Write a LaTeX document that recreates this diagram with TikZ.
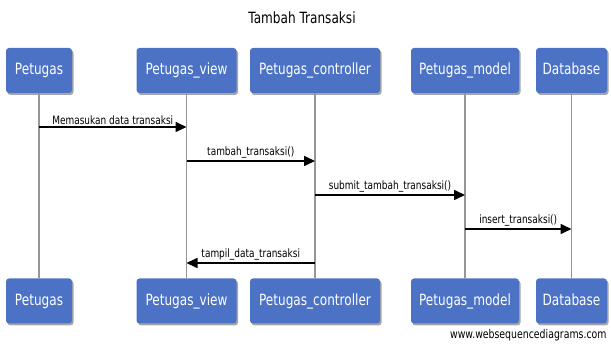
\documentclass[tikz,border=0pt]{standalone}
\usepackage{fontspec}
\setmainfont{DejaVu Sans}[FakeStretch=0.78]
\usetikzlibrary{shadows,arrows.meta}
\definecolor{boxblue}{RGB}{76,114,197}
\definecolor{lifegray}{RGB}{150,150,150}
\begin{document}
\begin{tikzpicture}[x=1pt,y=-1pt,
  actor/.style={fill=boxblue, rounded corners=3pt, text=white,
    font=\fontsize{15.5}{17}\selectfont, minimum height=45pt, inner sep=0pt,
    text height=11.5pt, text depth=3pt,
    drop shadow={shadow xshift=1.5pt,shadow yshift=-2pt,fill=black,opacity=0.35}},
  lifeline/.style={draw=lifegray, line width=1.3pt},
  msg/.style={draw=black, line width=1.6pt, -{Triangle[length=11pt,width=10pt]}},
  msglabel/.style={font=\fontsize{11.5}{13}\selectfont, above=1pt, inner sep=1pt}]
\useasboundingbox (0,0) rectangle (611,347);
\node (title) at (302,18) {\fontsize{15.5}{17}\selectfont Tambah Transaksi};
% top actors
\node[actor, minimum width=66pt]  (p1) at (39,70.5)  {Petugas};
\node[actor, minimum width=100pt] (v1) at (186.5,70.5) {Petugas\_view};
\node[actor, minimum width=130pt] (c1) at (315,70.5) {Petugas\_controller};
\node[actor, minimum width=108pt] (m1) at (465,70.5) {Petugas\_model};
\node[actor, minimum width=71pt]  (d1) at (571.5,70.5) {Database};
% bottom actors
\node[actor, minimum width=66pt]  (p2) at (39,301)  {Petugas};
\node[actor, minimum width=100pt] (v2) at (186.5,301) {Petugas\_view};
\node[actor, minimum width=130pt] (c2) at (315,301) {Petugas\_controller};
\node[actor, minimum width=108pt] (m2) at (465,301) {Petugas\_model};
\node[actor, minimum width=71pt]  (d2) at (571.5,301) {Database};
% lifelines
\draw[lifeline] (p1.south) -- (p2.north);
\draw[lifeline] (v1.south) -- (v2.north);
\draw[lifeline] (c1.south) -- (c2.north);
\draw[lifeline] (m1.south) -- (m2.north);
\draw[lifeline] (d1.south) -- (d2.north);
% message end points
\coordinate (a1) at (p1 |- 0,127);
\coordinate (b1) at (v1 |- 0,127);
\coordinate (a2) at (v1 |- 0,161);
\coordinate (b2) at (c1 |- 0,161);
\coordinate (a3) at (c1 |- 0,195);
\coordinate (b3) at (m1 |- 0,195);
\coordinate (a4) at (m1 |- 0,229);
\coordinate (b4) at (d1 |- 0,229);
\coordinate (a5) at (c1 |- 0,263);
\coordinate (b5) at (v1 |- 0,263);
% messages
\draw[msg] (a1) -- node[msglabel] {Memasukan data transaksi} (b1);
\draw[msg] (a2) -- node[msglabel] {tambah\_transaksi()} (b2);
\draw[msg] (a3) -- node[msglabel] {submit\_tambah\_transaksi()} (b3);
\draw[msg] (a4) -- node[msglabel] {insert\_transaksi()} (b4);
\draw[msg] (a5) -- node[msglabel] {tampil\_data\_transaksi} (b5);
\node[anchor=east, font=\fontsize{12}{14}\selectfont] (wm) at (610,335) {www.websequencediagrams.com};
\end{tikzpicture}
\end{document}
